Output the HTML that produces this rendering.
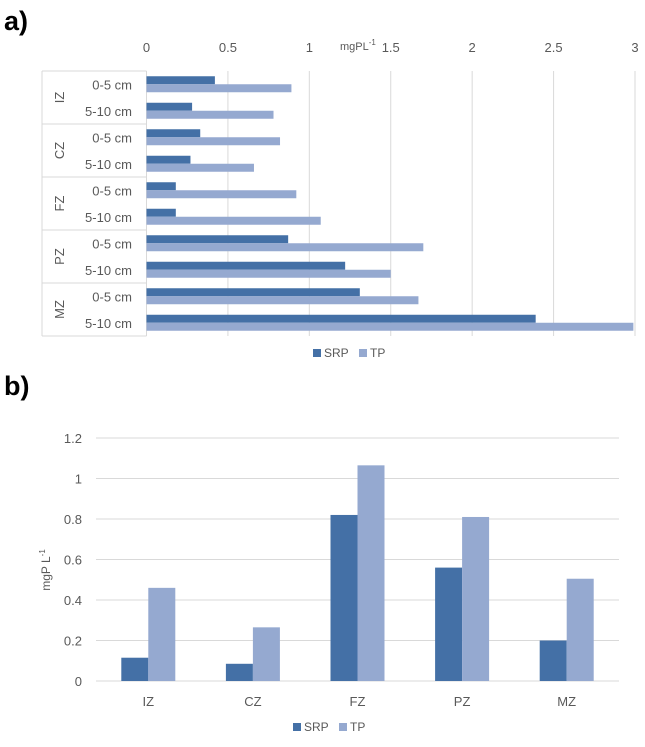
<!DOCTYPE html>
<html><head><meta charset="utf-8"><style>
body{margin:0;background:#fff;font-family:"Liberation Sans",sans-serif;}
svg text{font-family:"Liberation Sans",sans-serif;fill:#595959;}
</style></head><body>
<svg id="c" width="645" height="742" xmlns="http://www.w3.org/2000/svg">
<text x="4" y="30" font-size="27" font-weight="bold" style="fill:#000">a)</text>
<text x="4" y="395" font-size="27" font-weight="bold" style="fill:#000">b)</text>
<g id="a"></g><g id="b"></g>
</svg>
<script>
const NS="http://www.w3.org/2000/svg";
const zonesA=["IZ","CZ","FZ","PZ","MZ"];
const depths=["0-5 cm","5-10 cm"];
const srpA=[0.42,0.28,0.33,0.27,0.18,0.18,0.87,1.22,1.31,2.39];
const tpA=[0.89,0.78,0.82,0.66,0.92,1.07,1.70,1.50,1.67,2.99];
const ticksA=[0,0.5,1,1.5,2,2.5,3];
const catsB=["IZ","CZ","FZ","PZ","MZ"];
const srpB=[0.115,0.085,0.82,0.56,0.2];
const tpB=[0.46,0.265,1.065,0.81,0.505];
const ticksB=[0,0.2,0.4,0.6,0.8,1,1.2];
const C1="#4470a6",C2="#95a9d0",GR="#d9d9d9";
function el(p,t,a,txt){const e=document.createElementNS(NS,t);for(const k in a)e.setAttribute(k,a[k]);if(txt!=null)e.textContent=txt;p.appendChild(e);return e;}
// Chart a
const A=document.getElementById('a');
const ax0=146.5,ax1=635,ay0=71,ay1=336;
const xa=v=>ax0+v/3*(ax1-ax0);
const rowH=(ay1-ay0)/srpA.length;
ticksA.forEach(t=>{
 const g=el(A,'line',{x1:xa(t),x2:xa(t),y1:ay0,y2:ay1,stroke:GR});
 
 
 const l=el(A,'text',{x:xa(t),y:52,'font-size':13,'text-anchor':'middle'},String(t));
 
 
});
const tA=el(A,'text',{x:340,y:50,'font-size':11},'mgPL');


el(tA,'tspan',{dy:-5,'font-size':8},'-1');
el(A,'line',{x1:42,x2:ax0,y1:ay0,y2:ay0,stroke:GR});
el(A,'line',{x1:42,x2:42,y1:ay0,y2:ay1,stroke:GR});
el(A,'line',{x1:ax0,x2:ax0,y1:ay0,y2:ay1,stroke:GR});
zonesA.forEach((z,i)=>{
 const yTop=ay0+i*2*rowH,yb=yTop+2*rowH;
 el(A,'line',{x1:42,x2:ax0,y1:yb,y2:yb,stroke:GR});
 const zt=el(A,'text',{x:0,y:0,'font-size':13,'text-anchor':'middle',transform:`translate(60,${(yTop+yb)/2}) rotate(-90)`,dy:4},z);
 
 
});
srpA.forEach((v,i)=>{
 const cy=ay0+(i+0.5)*rowH;
 const d=el(A,'text',{x:132,y:cy+5,'font-size':13,'text-anchor':'end'},depths[i%2]);
 
 
 const r1=el(A,'rect',{x:ax0,y:cy-8,width:xa(v)-ax0,height:8,fill:C1});
 
 
 const r2=el(A,'rect',{x:ax0,y:cy,width:xa(tpA[i])-ax0,height:8,fill:C2});
 
 
});
function legend(P,x,y,name){
 const g=el(P,'g',{});
 
 
 el(g,'rect',{x:x,y:y-8,width:8,height:8,fill:C1});
 el(g,'text',{x:x+11,y:y,'font-size':12},'SRP');
 el(g,'rect',{x:x+46,y:y-8,width:8,height:8,fill:C2});
 el(g,'text',{x:x+57,y:y,'font-size':12},'TP');
}
legend(A,313,357,'legend-a');
// Chart b
const B=document.getElementById('b');
const bx0=96,bx1=619,by0=681,by1=438;
const yb=v=>by0-v/1.2*(by0-by1);
ticksB.forEach(t=>{
 const g=el(B,'line',{x1:bx0,x2:bx1,y1:yb(t),y2:yb(t),stroke:GR});
 
 
 const l=el(B,'text',{x:82,y:yb(t)+5,'font-size':13,'text-anchor':'end'},String(t));
 
 
});
const tB=el(B,'text',{x:0,y:0,'font-size':12,'text-anchor':'middle',transform:'translate(50,570) rotate(-90)'},'mgP L');


el(tB,'tspan',{dy:-5,'font-size':8},'-1');
const cw=(bx1-bx0)/catsB.length,bw=27;
catsB.forEach((c,i)=>{
 const cx=bx0+(i+0.5)*cw;
 const r1=el(B,'rect',{x:cx-bw,y:yb(srpB[i]),width:bw,height:by0-yb(srpB[i]),fill:C1});
 
 
 const r2=el(B,'rect',{x:cx,y:yb(tpB[i]),width:bw,height:by0-yb(tpB[i]),fill:C2});
 
 
 const l=el(B,'text',{x:cx,y:706,'font-size':13,'text-anchor':'middle'},c);
 
 
});
legend(B,293,731,'legend-b');
</script>
</body></html>
